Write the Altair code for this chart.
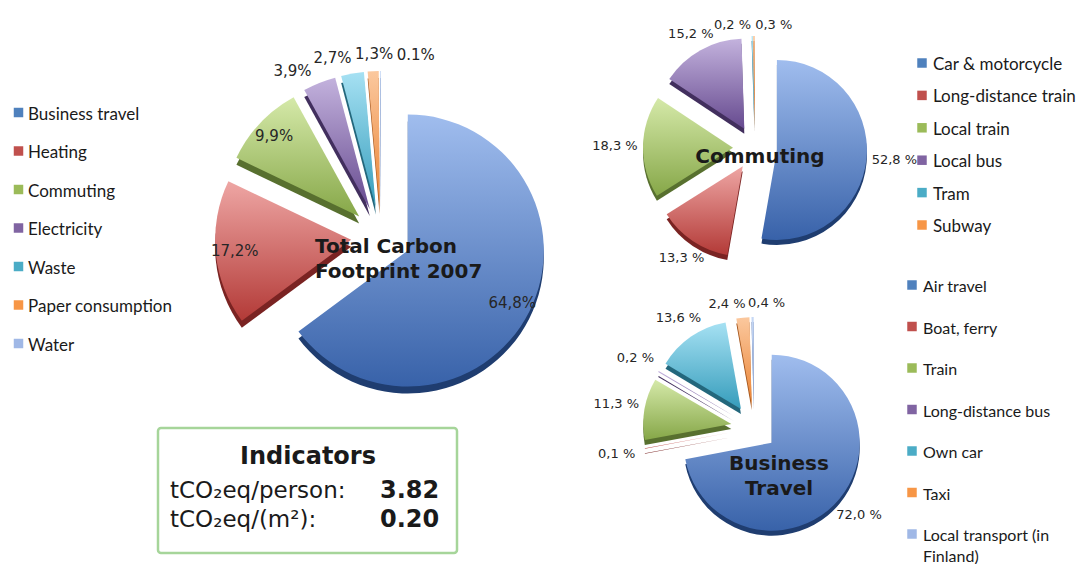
import json
import math
import altair as alt
import pandas as pd

# ---------------- data ----------------
main_names = ["Business travel", "Heating", "Commuting", "Electricity", "Waste",
              "Paper consumption", "Water"]
main_values = [64.8, 17.2, 9.9, 3.9, 2.7, 1.3, 0.1]
main_labels = ["64,8%", "17,2%", "9,9%", "3,9%", "2,7%", "1,3%", "0.1%"]

comm_names = ["Car & motorcycle", "Long-distance train", "Local train", "Local bus",
              "Tram", "Subway"]
comm_values = [52.8, 13.3, 18.3, 15.2, 0.2, 0.3]
comm_labels = ["52,8 %", "13,3 %", "18,3 %", "15,2 %", "0,2 %", "0,3 %"]

bus_names = ["Air travel", "Boat, ferry", "Train", "Long-distance bus", "Own car",
             "Taxi", "Local transport (in\nFinland)"]
bus_values = [72.0, 0.1, 11.3, 0.2, 13.6, 2.4, 0.4]
bus_labels = ["72,0 %", "0,1 %", "11,3 %", "0,2 %", "13,6 %", "2,4 %", "0,4 %"]

pie_titles = ["Total Carbon\nFootprint 2007", "Commuting", "Business\nTravel"]

indicator_title = ["Indicators"]
indicator_names = ["tCO\u2082eq/person:", "tCO\u2082eq/(m\u00b2):"]
indicator_values = ["3.82", "0.20"]

# ---------------- styles ----------------
FONT_NUM = "DejaVu Sans"
FONT_LEG = "Lato"
TOP = ["#a0bdee", "#eea6a4", "#d5e9a9", "#c3b2dd", "#a6e1f3", "#fbc89e", "#c6d8f5"]
BOT = ["#3862a9", "#b33a37", "#86a748", "#664a8f", "#359cbb", "#ea8333", "#8ea8db"]
SIDE = ["#1f3d70", "#7a2322", "#58702f", "#422f5e", "#23677c", "#a3541a", "#5e77a9"]
MID = ["#4f81bd", "#c0504d", "#9bbb59", "#8064a2", "#4bacc6", "#f79646", "#a0b8e6"]
MID_JS = json.dumps(MID)


def grad(c1, c2):
    return {"gradient": "linear", "x1": 0, "y1": 0, "x2": 0, "y2": 1,
            "stops": [{"offset": 0, "color": c1}, {"offset": 1, "color": c2}]}


def spread(mids, sep):
    """Push neighbouring outside labels apart (cluster and centre)."""
    clusters = [[m] for m in mids]

    def place(cl):
        c = sum(cl) / len(cl)
        s = c - sep * (len(cl) - 1) / 2
        return [s + sep * k for k in range(len(cl))]

    merged = True
    while merged:
        merged = False
        for i in range(len(clusters) - 1):
            a, b = place(clusters[i]), place(clusters[i + 1])
            if b[0] - a[-1] < sep:
                clusters[i] = clusters[i] + clusters.pop(i + 1)
                merged = True
                break
    out = []
    for cl in clusters:
        out += place(cl)
    return out


def pie_layers(names, values, labels, cx, cy, r, explode, depth, inside_min,
               inside_k, out_base, out_w, sep, fs):
    n = len(values)
    total = sum(values)
    cum, mids = 0.0, []
    for v in values:
        mids.append((cum + v / 2) / total * 360)
        cum += v
    inside = [v >= inside_min for v in values]
    out_idx = [i for i in range(n) if not inside[i]]
    sp = spread([mids[i] for i in out_idx], sep)
    la = list(mids)
    for k, i in enumerate(out_idx):
        la[i] = sp[k]
    ld = []
    for i in range(n):
        if inside[i]:
            ld.append(explode + inside_k * r)
        else:
            ld.append(out_base + out_w * abs(math.sin(math.radians(la[i]))))
    df = pd.DataFrame({"idx": list(range(n)), "name": names, "value": values,
                       "label": labels, "la": la, "ld": ld})
    base = (alt.Chart(df)
            .transform_joinaggregate(total="sum(value)")
            .transform_window(cum="sum(value)", sort=[alt.SortField("idx", order="ascending")],
                              frame=[None, 0])
            .transform_calculate(t0="2*PI*(datum.cum-datum.value)/datum.total")
            .transform_calculate(t1="2*PI*datum.cum/datum.total")
            .transform_calculate(mid="(datum.t0+datum.t1)/2")
            .transform_calculate(ax=f"{cx}+{explode}*sin(datum.mid)")
            .transform_calculate(ay=f"{cy}-{explode}*cos(datum.mid)")
            .transform_calculate(sy=f"datum.ay+{depth}"))
    shadows, tops = [], []
    for i in range(n):
        sub = base.transform_filter(f"datum.idx == {i}")
        common = dict(theta=alt.Theta("t0:Q", scale=None), theta2=alt.Theta2("t1:Q"),
                      x=alt.X("ax:Q", scale=None, axis=None))
        shadows.append(sub.mark_arc(radius=r, fill=SIDE[i]).encode(
            y=alt.Y("sy:Q", scale=None, axis=None), **common))
        tops.append(sub.mark_arc(radius=r, fill=grad(TOP[i], BOT[i])).encode(
            y=alt.Y("ay:Q", scale=None, axis=None), **common))
    text = (base
            .transform_calculate(lx=f"{cx}+datum.ld*sin(datum.la*PI/180)")
            .transform_calculate(ly=f"{cy}-datum.ld*cos(datum.la*PI/180)")
            .mark_text(font=FONT_NUM, fontSize=fs, color="#262626",
                       align="center", baseline="middle")
            .encode(x=alt.X("lx:Q", scale=None, axis=None),
                    y=alt.Y("ly:Q", scale=None, axis=None),
                    text="label:N"))
    return shadows + tops + [text]


def legend(names, x_sq, x_txt, y0, step, fs=17, lh=22):
    df = pd.DataFrame({"idx": list(range(len(names))), "name": names})
    b = (alt.Chart(df)
         .transform_calculate(cy=f"{y0}+datum.idx*{step}")
         .transform_calculate(col=f"{MID_JS}[datum.idx]"))
    sq = (b.transform_calculate(sy="datum.cy-1")
          .mark_square(size=90, opacity=1)
          .encode(x=alt.value(x_sq), y=alt.Y("sy:Q", scale=None, axis=None),
                  color=alt.Color("col:N", scale=None)))
    tx = (b.transform_calculate(ty="datum.cy+6")
          .mark_text(align="left", baseline="alphabetic", font=FONT_LEG, fontSize=fs,
                     lineBreak="\n", lineHeight=lh, color="#1a1a1a")
          .encode(x=alt.value(x_txt), y=alt.Y("ty:Q", scale=None, axis=None),
                  text="name:N"))
    return [sq, tx]


layers = []
layers += pie_layers(main_names, main_values, main_labels, cx=381, cy=237, r=136,
                     explode=30, depth=7, inside_min=5, inside_k=0.86,
                     out_base=183, out_w=10, sep=13, fs=15)
layers += pie_layers(comm_names, comm_values, comm_labels, cx=755, cy=148, r=90,
                     explode=22, depth=5, inside_min=1000, inside_k=0.8,
                     out_base=122, out_w=18, sep=19, fs=13)
layers += pie_layers(bus_names, bus_values, bus_labels, cx=754, cy=428, r=88,
                     explode=23, depth=5, inside_min=1000, inside_k=0.8,
                     out_base=124, out_w=16, sep=18, fs=13)

layers += legend(main_names, 18.5, 28, 113.5, 38.5)
layers += legend(comm_names, 922, 933, 64, 32.4)
layers += legend(bus_names, 912, 923, 286, 41.5, fs=16, lh=21)

# pie titles
tdf = pd.DataFrame({"t": pie_titles})
title_style = dict(font=FONT_NUM, fontSize=20, fontWeight="bold", color="#1a1a1a",
                   baseline="alphabetic", lineBreak="\n", lineHeight=25)
layers.append(alt.Chart(tdf).transform_filter("datum.t == 'Total Carbon\\nFootprint 2007'")
              .mark_text(align="left", **title_style)
              .encode(x=alt.value(315), y=alt.value(253), text="t:N"))
layers.append(alt.Chart(tdf).transform_filter("datum.t == 'Commuting'")
              .mark_text(align="center", **title_style)
              .encode(x=alt.value(760), y=alt.value(163), text="t:N"))
layers.append(alt.Chart(tdf).transform_filter("datum.t == 'Business\\nTravel'")
              .mark_text(align="center", **title_style)
              .encode(x=alt.value(779), y=alt.value(470), text="t:N"))

# indicators box
idf = pd.DataFrame({"title": indicator_title})
layers.append(alt.Chart(idf).mark_rect(fill="white", stroke="#a6d59a", strokeWidth=2.5,
                                       cornerRadius=3)
              .encode(x=alt.value(158), x2=alt.value(457), y=alt.value(428),
                      y2=alt.value(553)))
layers.append(alt.Chart(idf).mark_text(font=FONT_NUM, fontSize=24, fontWeight="bold",
                                       color="#1a1a1a", align="center",
                                       baseline="alphabetic")
              .encode(x=alt.value(308), y=alt.value(464), text="title:N"))
ind = pd.DataFrame({"idx": [0, 1], "name": indicator_names, "val": indicator_values})
ib = alt.Chart(ind).transform_calculate(iy="498+datum.idx*29")
layers.append(ib.mark_text(font=FONT_NUM, fontSize=23, color="#1a1a1a", align="left",
                           baseline="alphabetic")
              .encode(x=alt.value(170), y=alt.Y("iy:Q", scale=None, axis=None),
                      text="name:N"))
layers.append(ib.mark_text(font=FONT_NUM, fontSize=24, fontWeight="bold", color="#1a1a1a",
                           align="left", baseline="alphabetic")
              .encode(x=alt.value(380), y=alt.Y("iy:Q", scale=None, axis=None),
                      text="val:N"))

chart = (alt.layer(*layers)
         .properties(width=1082, height=564, padding=0,
                     autosize=alt.AutoSizeParams(type="none"), background="white")
         .configure_view(stroke=None))

chart.save("out.html", embed_options={"renderer": "svg", "actions": False})
